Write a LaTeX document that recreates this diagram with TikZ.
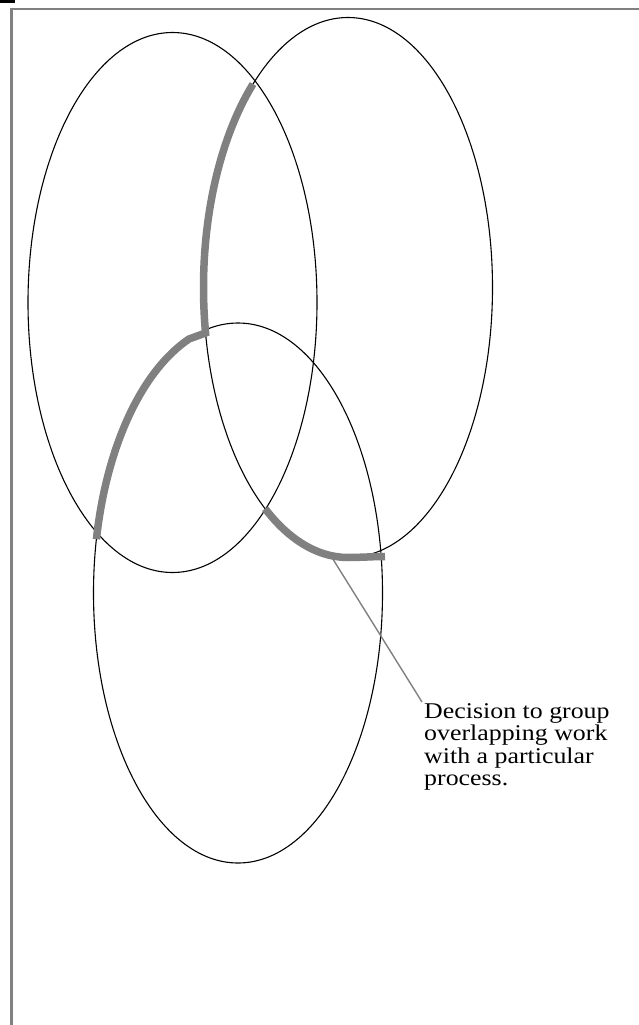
\documentclass[tikz,border=0pt]{standalone}
\usepackage{fontspec}
\setmainfont{Liberation Serif}[FakeStretch=1.15]
\usetikzlibrary{shapes.geometric}
\definecolor{hlgray}{RGB}{128,128,128}
\begin{document}
\begin{tikzpicture}[x=1pt,y=-1pt,
  ell/.style={ellipse, draw=black, line width=1.1pt, inner sep=0pt, outer sep=0pt,
              minimum width=289pt, minimum height=540pt},
  hl/.style={draw=hlgray, line width=7.5pt},
  frame/.style={draw=hlgray, line width=2.6pt},
  callout/.style={draw=hlgray, line width=1.4pt},
  label/.style={font=\fontsize{22.5}{22.3}\selectfont, align=left, inner sep=0pt, anchor=base west}]
\useasboundingbox (0,0) rectangle (639,1025);
\fill[black] (0,0) rectangle (15,3);
\draw[frame] (11.5,1025) -- (11.5,9) -- (639,9);
% ellipses
\node[ell] (A) at (172.5,302.5) {};
\node[ell] (B) at (348,287.5) {};
\node[ell] (C) at (238,593) {};
% highlighted boundaries
\draw[hl] ({348+144.5*cos(131.1)},{287.5-270*sin(131.1)})
  arc[start angle=131.1, end angle=189.7, x radius=144.5pt, y radius=270pt]
  -- ({238+144.5*cos(109.8)},{593-270*sin(109.8)})
  arc[start angle=109.8, end angle=168.5, x radius=144.5pt, y radius=270pt];
\draw[hl] ({348+144.5*cos(235)},{287.5-270*sin(235)})
  arc[start angle=235, end angle=272, x radius=144.5pt, y radius=270pt]
  to[out=0, in=180] (385,556.5);
% callout
\coordinate (p) at (331,556);
\coordinate (q) at (422,702);
\node[label] (txt) at (424,785.5) {Decision to group\\overlapping work\\with a particular\\process.};
\draw[callout] (p) -- (q);
\end{tikzpicture}
\end{document}
